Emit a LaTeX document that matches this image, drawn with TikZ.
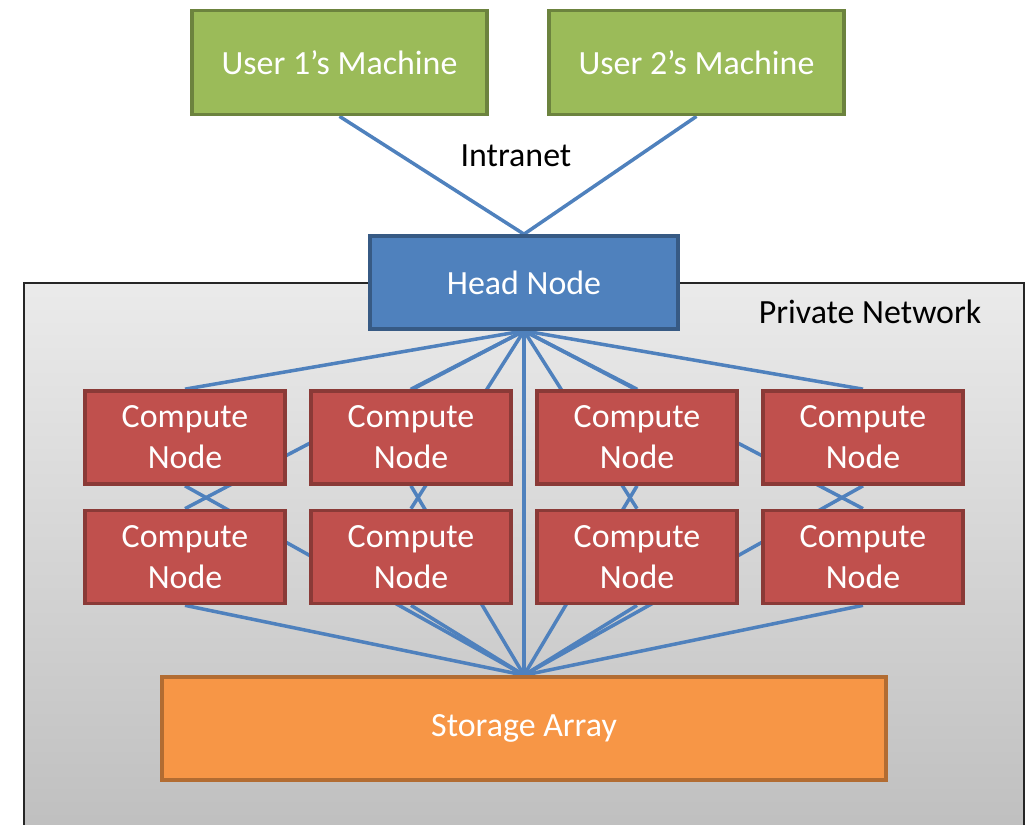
\documentclass[tikz,border=0pt]{standalone}
\usepackage{fontspec}
\setmainfont{Carlito}
\usepackage{tikz}
\usetikzlibrary{backgrounds}
\definecolor{usergreen}{HTML}{9BBB59}
\definecolor{headblue}{HTML}{4F81BD}
\definecolor{computered}{HTML}{C0504D}
\definecolor{storageorange}{HTML}{F79646}

\begin{document}
\begin{tikzpicture}
	[x=0.02cm,y=-0.02cm,
	 box/.style={draw,line width=2.1pt,inner sep=0pt,align=center,text=white,
		font=\fontsize{19.3}{23.3}\selectfont},
	 machine/.style={box,fill=usergreen,draw=usergreen!70!black,minimum width=5.9cm,minimum height=2.08cm},
	 head/.style={box,fill=headblue,draw=headblue!70!black,minimum width=6.16cm,minimum height=1.86cm},
	 compute/.style={box,fill=computered,draw=computered!72!black,minimum width=4.0cm,minimum height=1.86cm},
	 storage/.style={box,fill=storageorange,draw=storageorange!72!black,minimum width=14.48cm,minimum height=2.06cm},
	 link/.style={headblue,line width=2pt},
	 label/.style={font=\fontsize{19.3}{23.3}\selectfont}]
	\useasboundingbox (0,0) rectangle (1028,825);

	% users on the intranet
	\node[machine] (U1) at (339.5,62.5) {User 1’s Machine};
	\node[machine] (U2) at (696.5,62.5) {User 2’s Machine};
	\node[label] (I) at (516,156) {Intranet};

	% head node
	\node[head] (H) at (524,282.5) {Head Node};
	\node[label] (P) at (870,312) {Private Network};

	% compute nodes, top row
	\node[compute] (C1) at (185,437.5) {Compute\\Node};
	\node[compute] (C2) at (411,437.5) {Compute\\Node};
	\node[compute] (C3) at (637,437.5) {Compute\\Node};
	\node[compute] (C4) at (863,437.5) {Compute\\Node};
	% compute nodes, bottom row
	\node[compute] (C5) at (185,557) {Compute\\Node};
	\node[compute] (C6) at (411,557) {Compute\\Node};
	\node[compute] (C7) at (637,557) {Compute\\Node};
	\node[compute] (C8) at (863,557) {Compute\\Node};

	% storage
	\node[storage] (S) at (524,728.5) {\raisebox{-4pt}{Storage Array}};

	\begin{scope}[on background layer]
		% private network area
		\coordinate (NW) at (24,283);
		\coordinate (NE) at (1024,283);
		\coordinate (SW) at (24,830);
		\coordinate (SE) at (1024,830);
		\shade[top color=black!8,bottom color=black!25] (NW) rectangle (SE);
		\draw[black!85,line width=0.7pt] (SW) -- (NW) -- (NE) -- (SE);

		% intranet links
		\draw[link] (U1.south) -- (H.north);
		\draw[link] (U2.south) -- (H.north);

		% head to compute nodes
		\draw[link] (H.south) -- (C1.north);
		\draw[link] (H.south) -- (C2.north);
		\draw[link] (H.south) -- (C3.north);
		\draw[link] (H.south) -- (C4.north);
		\draw[link] (H.south) -- (C5.north);
		\draw[link] (H.south) -- (C6.north);
		\draw[link] (H.south) -- (C7.north);
		\draw[link] (H.south) -- (C8.north);

		% compute nodes to storage
		\draw[link] (C1.south) -- (S.north);
		\draw[link] (C2.south) -- (S.north);
		\draw[link] (C3.south) -- (S.north);
		\draw[link] (C4.south) -- (S.north);
		\draw[link] (C5.south) -- (S.north);
		\draw[link] (C6.south) -- (S.north);
		\draw[link] (C7.south) -- (S.north);
		\draw[link] (C8.south) -- (S.north);

		% head to storage
		\draw[link] (H.south) -- (S.north);
	\end{scope}

\end{tikzpicture}
\end{document}
